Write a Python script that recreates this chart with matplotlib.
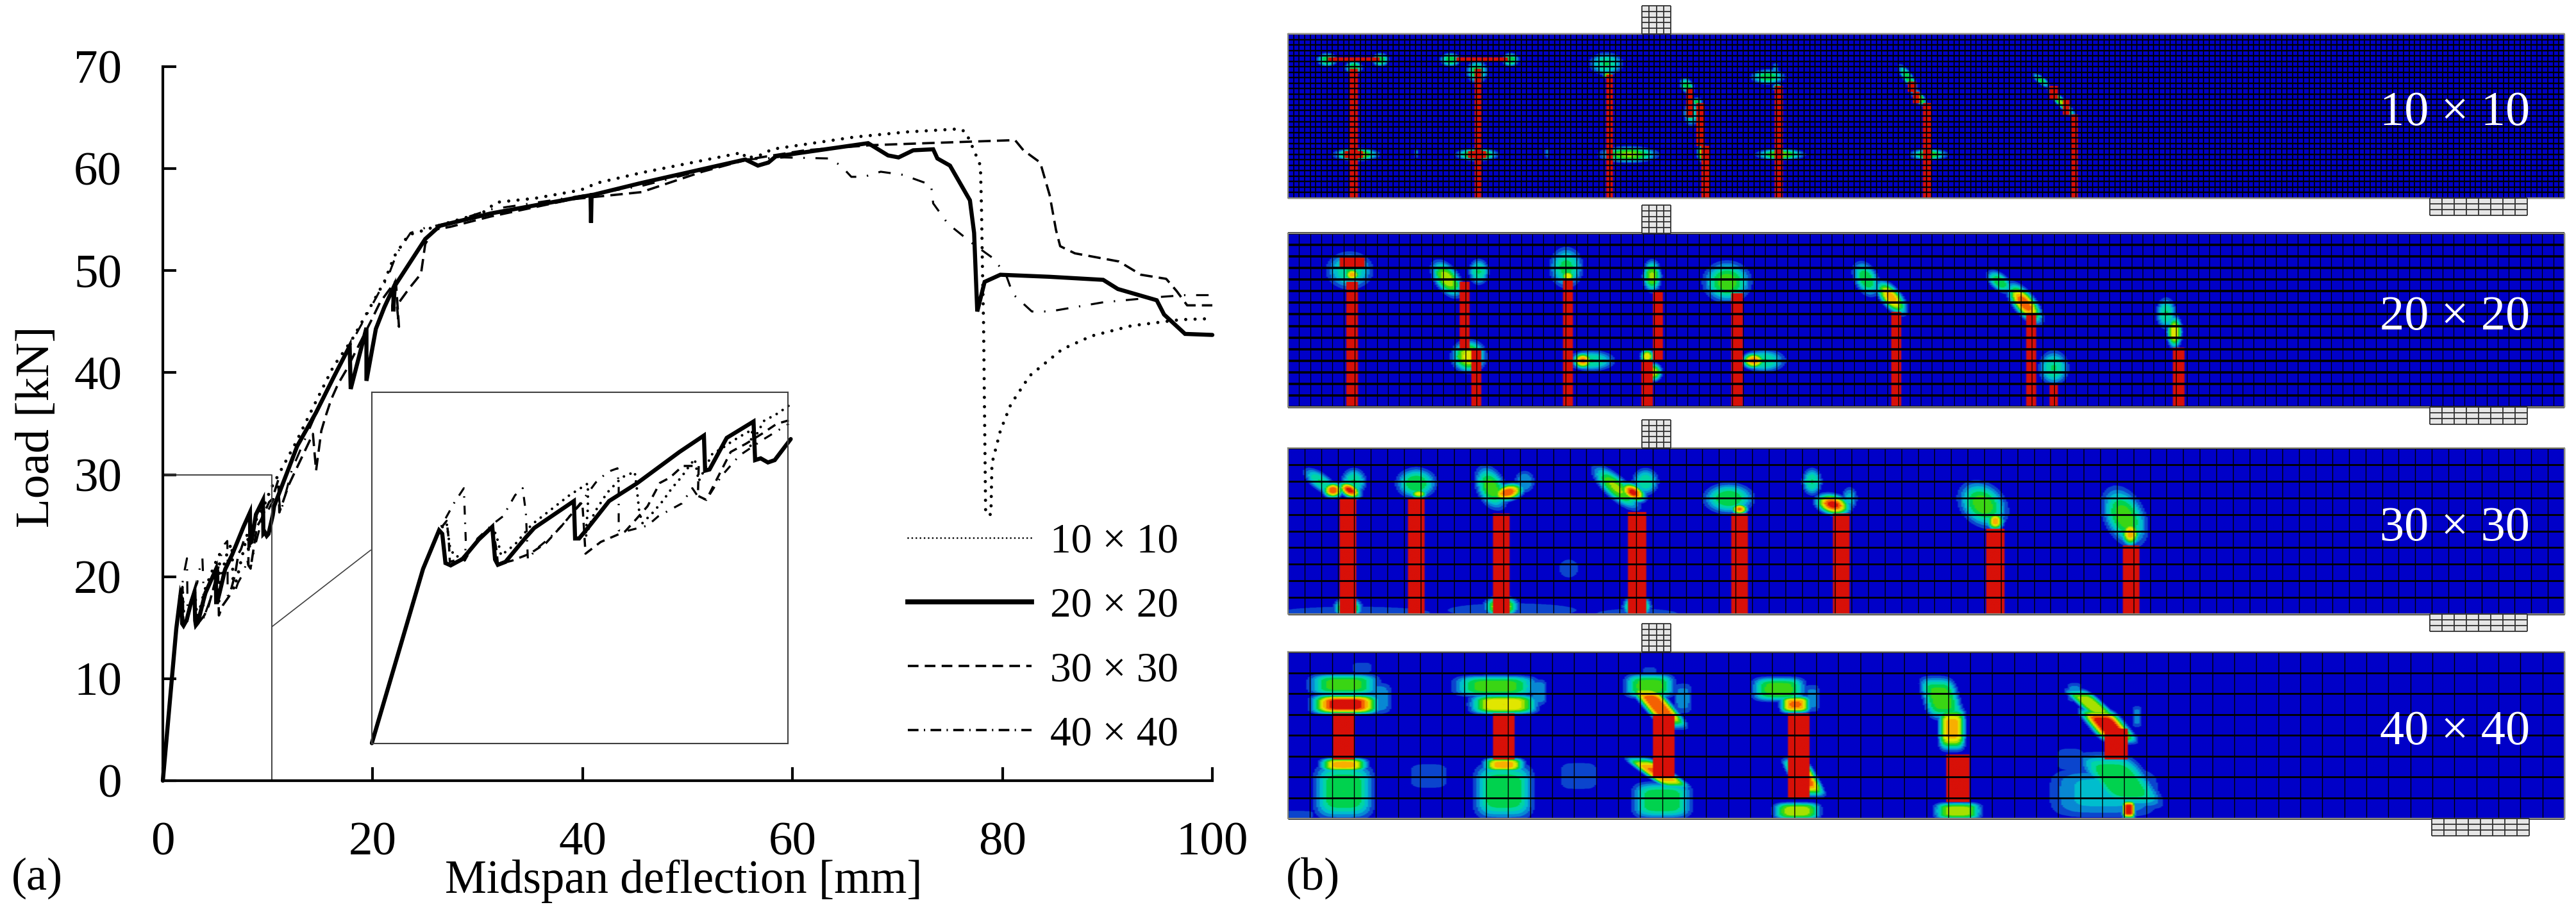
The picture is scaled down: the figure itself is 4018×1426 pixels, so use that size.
#!/usr/bin/env python3
"""Load-deflection curves and crack patterns for four mesh sizes."""

import numpy as np
import matplotlib
matplotlib.use('Agg')
import matplotlib.pyplot as plt
from matplotlib.colors import LinearSegmentedColormap
from matplotlib.lines import Line2D

plt.rcParams['font.family'] = ['Liberation Serif', 'DejaVu Serif']
plt.rcParams['lines.scale_dashes'] = False

W, H = 4018, 1426

# load-deflection curves (mm, kN)
x_20 = [0, 1.28, 1.68, 1.76, 1.84, 1.97, 2.27, 2.67, 3.01, 3.08, 3.15, 3.34, 3.85, 4.06, 5.05, 5.08, 5.18, 5.4,
        5.93, 6.62, 7.69, 8.3, 8.33, 8.44, 8.87, 9.54, 9.58, 9.72, 9.9, 10.07, 10.47, 10.6, 12.1, 12.8, 14.6, 16.25,
        17.8, 17.9, 19.4, 19.4, 20.3, 21.1, 22.0, 21.95, 22.1, 25.0, 26.4, 31.2, 40.75, 40.8, 40.85, 45.6, 55.5,
        56.7, 57.7, 58.4, 67.2, 69.1, 70.1, 71.5, 73.4, 73.8, 75, 76.9, 77.3, 77.6, 78.3, 79.8, 84.5, 89.6, 91,
        94.7, 95.4, 97.4, 100]
y_20 = [0, 14.9, 18.2, 17.9, 15.4, 15.2, 15.75, 17.4, 18.5, 15.7, 15.25, 15.5, 17.6, 18.4, 20.7, 17.5, 17.5, 18.4,
        20.7, 22.2, 24.9, 26.3, 23.3, 23.4, 26.1, 27.5, 24.2, 24.35, 24.0, 24.2, 26.0, 26.9, 30.9, 32.8, 36.1, 39.5,
        42.6, 38.4, 44.4, 39.2, 44.3, 46.4, 48.4, 46.0, 48.5, 53.1, 54.4, 55.6, 57.4, 54.7, 57.4, 58.6, 60.9,
        60.3, 60.6, 61.2, 62.5, 61.3, 61.1, 61.8, 61.9, 61.0, 60.3, 56.9, 53.7, 46.0, 48.9, 49.6, 49.4, 49.1, 48.2,
        47.1, 45.7, 43.8, 43.7]

x_10 = [0, 1.28, 1.68, 1.87, 1.95, 2.06, 2.3, 2.67, 3.02, 3.15, 3.23, 3.58, 4.0, 4.49, 4.94, 5.4, 5.4, 5.34, 5.56,
        5.88, 6.14, 6.3, 6.57, 6.62, 6.68, 6.76, 7.02, 7.27, 7.5, 7.75, 7.85, 8.07, 8.17, 8.52, 8.71, 9.0, 9.32,
        9.51, 9.46, 9.8, 10.15, 10.44, 12.6, 14.6, 16.25, 18, 19.1, 20.5, 21.1, 22.05, 23.4, 25, 26.2, 30.5, 31.8,
        35.5, 39.8, 41.4, 45.6, 55.3, 55.5, 57.2, 58, 65.9, 70.9, 75.9, 76.5, 77.2, 77.9, 78, 78.1, 78.2, 78.4,
        78.9, 79.0, 79.8, 80.8, 82.6, 85.7, 88.5, 92.3, 97, 100]
y_10 = [0, 14.9, 18.2, 18.8, 16.8, 16.0, 15.9, 17.5, 18.6, 17.3, 16.05, 17.0, 18.7, 20.0, 21.2, 22.2, 20.1, 17.6, 19.7,
        21.4, 22.35, 22.8, 23.2, 21.9, 19.9, 18.8, 19.7, 20.7, 21.8, 22.8, 23.3, 24.3, 22.4, 24.8, 25.1, 25.8, 26.45,
        26.8, 25.4, 27.55, 28.2, 28.9, 33.0, 37.2, 40.6, 43.2, 45.2, 47.8, 48.9, 51.4, 53.5, 54, 54.4, 55.7, 56.7,
        57.1, 57.9, 58.6, 59.6, 61.6, 61, 61.4, 61.9, 63.1, 63.6, 63.9, 63.6, 62, 60.3, 56.3, 50, 44.8, 26.1,
        26.1, 31.1, 34.3, 36.9, 39.7, 42.3, 43.6, 44.6, 45.2, 45.3]

x_30 = [0, 1.28, 1.68, 1.87, 1.92, 1.95, 2.25, 2.67, 3.02, 3.12, 3.15, 3.5, 3.95, 4.35, 4.75, 5.02, 5.26, 5.3, 5.34,
        5.72, 6.33, 6.62, 6.89, 7.2, 7.45, 7.77, 8.17, 8.15, 8.36, 8.97, 9.35, 9.75, 10.12, 10.42, 11.0, 11.1,
        12.0, 14.3, 14.6, 15.1, 15.5, 16.05, 16.7, 17.5, 19.9, 20.7, 22.2, 22.5, 22.3, 23.5, 24.6, 25, 25.8, 27.4,
        31.2, 39, 45.6, 51.4, 55.7, 61.2, 67.4, 72.8, 81.2, 82, 83.6, 84.5, 85.1, 85.5, 86.9, 91.1, 93.2, 95.6, 96.6,
        97.6, 100]
y_30 = [0, 14.9, 18.2, 19, 17.5, 15.5, 15.8, 17.4, 18.5, 16.4, 15.3, 15.6, 16.2, 17.1, 18.6, 19.7, 20.6, 18.5, 16.2,
        17.2, 18.1, 19.2, 20.25, 22.25, 22.7, 23.7, 23.7, 21.15, 20.8, 24.9, 25.6, 26.45, 27.3, 27.6, 29.5, 26.3,
        29, 34, 30.4, 34.3, 35.7, 37.4, 38.9, 40.3, 45.2, 46.9, 49, 44.5, 46.6, 48.3, 49.7, 52.6, 54, 54.3,
        55.3, 57, 57.7, 59.7, 60.9, 61.8, 62.3, 62.5, 62.8, 61.8, 60.6, 57.4, 54, 52.4, 51.7, 50.9, 49.6, 49.2, 48,
        46.6, 46.6]

x_40 = [0, 1.28, 1.68, 2.05, 2.3, 2.35, 2.32, 2.64, 3.05, 3.28, 3.58, 3.77, 3.85, 3.9, 4.11, 4.43, 4.75, 5.23, 5.6,
        5.9, 6.14, 6.17, 6.17, 6.33, 6.89, 7.16, 7.75, 8.01, 8.15, 8.36, 8.73, 9.19, 9.8, 10.42, 11.0, 11.2, 12.3,
        14.6, 16.25, 18, 19.5, 20.5, 21, 21.3, 22.3, 23.6, 25, 27.4, 31.2, 39, 45.6, 55.5, 59.2, 63.5, 64.6, 65.6,
        66.8, 68.4, 70.5, 73.2, 73.4, 74.8, 77.1, 79, 80.3, 81, 82.8, 84.5, 89.6, 94.7, 97.4, 100]
y_40 = [0, 14.9, 18.2, 20.5, 21.8, 17.1, 15.6, 17.5, 18.8, 19.4, 21.2, 21.8, 19.7, 15.7, 16.6, 17.5, 18.6, 20.6, 22.3,
        23.2, 23.5, 21.9, 18.2, 18.1, 18.6, 19.4, 20.5, 21.8, 21.1, 20.8, 22.8, 24.6, 26, 27.3, 28.8, 26.2, 30.5,
        36, 39.5, 43, 45.8, 47.7, 48.7, 49, 51.7, 53.7, 54.2, 54.7, 56, 57.2, 58.3, 60.9, 61.1, 61, 60.3, 59.2,
        59.2, 59.7, 59.4, 58.4, 56.6, 54.6, 52.7, 51.3, 49.7, 47.7, 46, 46, 46.9, 47.4, 47.6, 47.6]

mesh_labels = ['10 × 10', '20 × 20', '30 × 30', '40 × 40']
x_ticks = [0, 20, 40, 60, 80, 100]
y_ticks = [0, 10, 20, 30, 40, 50, 60, 70]

# beams of panel (b): number of cells, and where they sit in the picture
mesh_rows = [30, 15, 10, 8]
mesh_cols = [230, 115, 77, 58]
bar_width = [9, 13, 20, 27]

# crack patterns, in units of a zoomed crop of the beams (x 22-1554)
beam_y = [(118, 693), (816, 1422), (40, 585), (708, 1255)]

# red strips: x centre, y top, y bottom, and a width factor
bars_10 = [(100, 240, 693, 1), (249, 240, 693, 1), (407, 260, 693, 1), (522, 510, 693, 1), (516, 360, 510, 1),
           (503, 310, 410, 1), (610, 300, 693, 1), (788, 360, 693, 1), (775, 320, 360, 1), (770, 285, 320, 1),
           (965, 400, 693, 1), (955, 345, 400, 1), (940, 300, 345, 1), (100, 200, 215, 7), (254, 200, 215, 7),
           (100, 528, 552, 2.5), (248, 528, 552, 2.5)]
bars_20 = [(98, 985, 1422, 1), (98, 900, 938, 2.2), (233, 985, 1220, 1), (247, 1220, 1422, 1), (357, 980, 1422, 1),
           (465, 1020, 1260, 1), (452, 1260, 1422, 1), (560, 1025, 1422, 1), (751, 1090, 1422, 1), (913, 1095, 1422, 1),
           (940, 1345, 1422, 0.9), (1090, 1215, 1422, 1)]
bars_30 = [(93, 205, 585, 1), (175, 205, 585, 1), (277, 255, 585, 1), (440, 250, 585, 1), (563, 255, 585, 1),
           (685, 255, 585, 1), (870, 305, 585, 1), (1033, 360, 585, 1)]
bars_40 = [(88, 910, 1060, 1), (280, 910, 1060, 1), (472, 915, 1120, 1), (634, 910, 1190, 1), (825, 1045, 1200, 1),
           (1015, 960, 1060, 1)]

# contour blobs: x, y, half width, half height, peak level, lean
blobs_10 = [(68, 208, 12, 24, .5, 0), (132, 208, 10, 24, .5, 0), (100, 235, 10, 25, .5, 0),
            (216, 208, 12, 24, .5, 0), (288, 208, 10, 24, .5, 0), (248, 250, 12, 40, .5, 0),
            (403, 222, 20, 40, .42, 0), (405, 262, 6, 12, .7, 0),
            (500, 300, 8, 28, .5, .1), (505, 395, 9, 45, .42, 0), (512, 355, 6, 15, .5, 0),
            (597, 268, 20, 26, .48, 0), (606, 240, 4, 24, .25, 0), (608, 305, 5, 14, .6, 0),
            (765, 270, 7, 45, .5, .2), (778, 340, 7, 30, .65, .2), (925, 280, 7, 25, .45, .3), (950, 360, 7, 50, .6, .3),
            (103, 540, 26, 22, .65, 0), (175, 535, 3, 22, .2, 0), (248, 540, 24, 22, .65, 0), (332, 535, 3, 22, .2, 0),
            (430, 540, 34, 28, .6, 0), (518, 535, 6, 30, .7, 0), (612, 540, 28, 20, .6, 0), (790, 540, 22, 20, .55, 0)]
blobs_20 = [(95, 945, 28, 65, .42, 0), (98, 960, 9, 22, .8, 0), (212, 975, 16, 62, .65, .15), (250, 950, 12, 45, .42, 0),
            (238, 1245, 20, 55, .7, 0), (355, 935, 20, 70, .45, 0), (357, 965, 8, 20, .75, 0), (385, 1260, 28, 36, .42, 0),
            (375, 1260, 12, 28, .85, 0), (458, 965, 11, 55, .6, 0), (460, 1300, 10, 32, .65, 0), (452, 1245, 8, 25, .75, 0),
            (548, 985, 28, 70, .55, 0), (592, 1260, 26, 40, .42, 0), (580, 1260, 14, 28, .85, 0),
            (715, 975, 15, 60, .5, .1), (745, 1040, 14, 58, .8, .2), (875, 985, 13, 40, .5, .2), (905, 1060, 15, 68, .9, .2),
            (940, 1285, 18, 60, .42, 0), (1075, 1095, 12, 55, .42, 0), (1085, 1160, 9, 55, .75, 0)]
blobs_30 = [(60, 150, 15, 45, .42, .3), (100, 150, 15, 45, .42, 0), (75, 178, 12, 26, .9, 0), (95, 178, 12, 28, .95, .2),
            (175, 155, 24, 50, .5, 0), (178, 190, 10, 15, .7, 0), (265, 170, 18, 70, .55, .1), (305, 150, 13, 40, .25, 0),
            (285, 185, 18, 30, .9, -.2), (415, 170, 18, 70, .6, .3), (450, 150, 16, 45, .4, 0), (435, 185, 14, 32, .95, .2),
            (550, 205, 30, 50, .5, 0), (563, 240, 10, 18, .85, 0), (650, 150, 12, 45, .42, 0), (675, 225, 20, 35, .95, .15),
            (695, 205, 10, 40, .28, 0), (855, 225, 28, 75, .55, .1), (870, 280, 10, 30, .8, 0),
            (1025, 265, 25, 95, .55, .1), (1032, 320, 11, 40, .8, 0), (358, 435, 15, 40, .15, 0),
            (93, 565, 16, 35, .75, 0), (277, 560, 20, 35, .75, 0), (440, 560, 16, 35, .75, 0),
            (100, 580, 130, 28, .14, 0), (290, 572, 110, 32, .14, 0), (440, 585, 70, 26, .14, 0)]
blobs_40 = [(88, 815, 42, 35, .55, 0), (90, 880, 40, 32, 1, 0), (110, 760, 14, 22, .14, 0), (125, 860, 22, 55, .25, 0),
            (270, 820, 50, 35, .55, 0), (280, 880, 40, 32, .75, 0), (322, 840, 10, 45, .25, 0),
            (455, 820, 30, 40, .55, 0), (465, 885, 18, 70, .9, .3), (495, 860, 12, 55, .2, 0), (455, 775, 10, 22, .14, 0),
            (610, 830, 32, 40, .55, 0), (630, 880, 18, 28, .85, 0), (650, 860, 10, 50, .2, 0),
            (805, 860, 22, 70, .55, .1), (818, 960, 16, 70, .8, 0),
            (985, 880, 16, 50, .65, .4), (1005, 950, 22, 55, 1, .3), (965, 840, 10, 35, .2, 0), (1040, 920, 6, 40, .2, 0),
            (88, 1165, 36, 92, .5, 0), (88, 1078, 28, 22, .8, 0), (280, 1165, 36, 92, .5, 0), (280, 1078, 24, 22, .8, 0),
            (470, 1195, 36, 60, .5, 0), (465, 1105, 18, 50, .85, .5), (640, 1120, 16, 60, .9, .2), (632, 1230, 28, 28, .65, 0),
            (825, 1230, 28, 28, .65, 0), (1000, 1170, 68, 85, .28, 0), (1020, 1130, 36, 90, .5, .25), (1030, 1225, 8, 30, 1, 0),
            (190, 1115, 28, 50, .14, 0), (370, 1115, 28, 55, .14, 0), (30, 1242, 28, 16, .14, 0), (960, 1060, 20, 45, .14, 0)]

all_bars = [bars_10, bars_20, bars_30, bars_40]
all_blobs = [blobs_10, blobs_20, blobs_30, blobs_40]

# beam rectangles and plates in picture pixels
beam_left, beam_right = 2009, 4000
beam_tops = [53, 364, 699, 1017]
beam_bottoms = [309, 635, 958, 1277]

contour_colors = ['#0000c8', '#1060d0', '#00b8d8', '#00d8a0', '#00d020', '#a0e000', '#f0e800', '#ff8000', '#d81008']
contour_cmap = LinearSegmentedColormap.from_list('contour', contour_colors, N=12)

main_styles = [dict(color='black', lw=3.6, ls=(0, (0.01, 10.5)), dash_capstyle='round'),
               dict(color='black', lw=2.6, ls=(0, (14, 7)), dash_capstyle='butt'),
               dict(color='black', lw=2.3, ls=(0, (14, 12, 1.6, 12)), dash_capstyle='butt'),
               dict(color='black', lw=4.6, ls='-', solid_capstyle='round', solid_joinstyle='miter')]
inset_styles = [dict(color='black', lw=3.0, ls=(0, (0.01, 8)), dash_capstyle='round'),
                dict(color='black', lw=2.5, ls=(0, (10, 7)), dash_capstyle='butt'),
                dict(color='black', lw=2.3, ls=(0, (10, 9, 1.6, 9)), dash_capstyle='butt'),
                dict(color='black', lw=4.6, ls='-', solid_capstyle='round', solid_joinstyle='miter')]


def px_axes(fig, left, top, right, bottom):
    return fig.add_axes([left / W, 1 - bottom / H, (right - left) / W, (bottom - top) / H])


def draw_curves(ax, styles, x_max=None):
    series = [(x_10, y_10), (x_30, y_30), (x_40, y_40), (x_20, y_20)]
    for (xs, ys), style in zip(series, styles):
        xs, ys = np.array(xs), np.array(ys)
        if x_max is not None:
            keep = xs <= x_max
            xs, ys = xs[keep], ys[keep]
        ax.plot(xs, ys, clip_on=False, **style)


def beam_field(bars, blobs, y_range, width, boxy):
    xs = np.arange(22, 1554, 2.0)
    ys = np.arange(y_range[0], y_range[1], 1.0)
    gx, gy = np.meshgrid(xs, ys)
    field = np.zeros_like(gx)
    for cx, cy, hw, hh, peak, lean in blobs:
        dx = (gx - cx - lean * (gy - cy)) / hw
        dy = (gy - cy) / hh
        if boxy:
            shape = dx ** 4 + dy ** 4
        else:
            shape = (dx ** 2 + dy ** 2) ** 1.5
        field = np.maximum(field, peak * np.exp(-1.5 * shape))
    for cx, top, bottom, factor in bars:
        half = width * factor / 2
        field[(abs(gx - cx) <= half) & (gy >= top) & (gy <= bottom)] = 1.0
    return field


def draw_plate(ax, left, top, right, bottom, cols, rows):
    ax.fill_between([left, right], top, bottom, color='#e6e6e6', lw=0, zorder=2)
    ax.vlines(np.linspace(left, right, cols + 1), top, bottom, color='#303030', lw=1.3, zorder=3)
    ax.hlines(np.linspace(top, bottom, rows + 1), left, right, color='#303030', lw=1.3, zorder=3)


def draw_beams(ax):
    h_lw = [1.7, 2.6, 2.0, 2.0]
    v_lw = [1.2, 0.9, 1.0, 1.0]
    for i in range(4):
        top, bottom = beam_tops[i], beam_bottoms[i]
        field = beam_field(all_bars[i], all_blobs[i], beam_y[i], bar_width[i], boxy=(i == 3))
        ax.imshow(field, cmap=contour_cmap, vmin=0, vmax=1, extent=(beam_left, beam_right, bottom, top),
                  aspect='auto', interpolation='bilinear', zorder=1)
        ax.vlines(np.linspace(beam_left, beam_right, mesh_cols[i] + 1), top, bottom, color='black', lw=v_lw[i], zorder=2)
        ax.hlines(np.linspace(top, bottom, mesh_rows[i] + 1), beam_left, beam_right, color='black', lw=h_lw[i], zorder=2)
        ax.plot([beam_left, beam_right, beam_right, beam_left, beam_left], [top, top, bottom, bottom, top],
                color='#8c8c80', lw=1.6, zorder=3)
        draw_plate(ax, 2561, top - 44, 2606, top, 4, 5)
        shift = 3 if i == 3 else 0
        draw_plate(ax, 3790 + shift, bottom, 3942 + shift, bottom + 27, 8, 3)
        ax.text(3829, (top + bottom) / 2 - 4, mesh_labels[i], color='white', fontsize=55, ha='center', va='center', zorder=4)


def main():
    fig = plt.figure(figsize=(W / 100, H / 100), dpi=100, facecolor='white')

    # panel (a)
    ax = px_axes(fig, 254, 104, 1891, 1218)
    draw_curves(ax, main_styles)
    ax.set_xlim(0, 100)
    ax.set_ylim(0, 70)
    ax.set_xticks(x_ticks)
    ax.set_yticks(y_ticks)
    ax.spines['top'].set_visible(False)
    ax.spines['right'].set_visible(False)
    ax.spines['left'].set_linewidth(3)
    ax.spines['bottom'].set_linewidth(3)
    ax.tick_params(axis='x', direction='in', length=15, width=3, pad=46, labelsize=54)
    ax.tick_params(axis='y', direction='in', length=15, width=3, pad=46, labelsize=54)
    ax.patch.set_alpha(0)

    # region shown in the inset
    ax.plot([0, 10.4, 10.4], [30, 30, 0], color='#404040', lw=1.4)
    ax.plot([10.4, 19.8], [15.1, 22.6], color='#404040', lw=1.2)

    inset = px_axes(fig, 580, 612, 1229, 1159.5)
    draw_curves(inset, inset_styles, x_max=10.5)
    inset.set_xlim(0, 10.4)
    inset.set_ylim(0, 30)
    inset.set_xticks([])
    inset.set_yticks([])
    for spine in inset.spines.values():
        spine.set_linewidth(1.5)
        spine.set_color('#404040')

    handles = [Line2D([], [], color='black', lw=2.0, ls=(0, (0.01, 4.6)), dash_capstyle='round'),
               Line2D([], [], color='black', lw=5.6),
               Line2D([], [], color='black', lw=2.6, ls=(0, (12, 7))),
               Line2D([], [], color='black', lw=2.6, ls=(0, (12, 6, 1.5, 6)))]
    fig.legend(handles, mesh_labels, loc='upper left', bbox_to_anchor=(1416 / W, 1 - 816 / H), frameon=False, fontsize=47,
               handlelength=2.95, handletextpad=0.45, labelspacing=0.62, borderpad=0, borderaxespad=0)

    # full-figure layer in picture pixels for panel (b) and the free texts
    over = fig.add_axes([0, 0, 1, 1], zorder=5)
    over.patch.set_alpha(0)
    draw_beams(over)
    over.set_xlim(0, W)
    over.set_ylim(H, 0)
    over.axis('off')

    over.text(1066, 1375, 'Midspan deflection [mm]', fontsize=52.5, ha='center', va='center')
    over.text(58, 666, 'Load [kN]', fontsize=54, rotation=90, ha='center', va='center')
    over.text(58, 1370, '(a)', fontsize=52, ha='center', va='center')
    over.text(2048, 1370, '(b)', fontsize=52, ha='center', va='center')

    fig.savefig('out.png', dpi=100)


if __name__ == '__main__':
    main()
